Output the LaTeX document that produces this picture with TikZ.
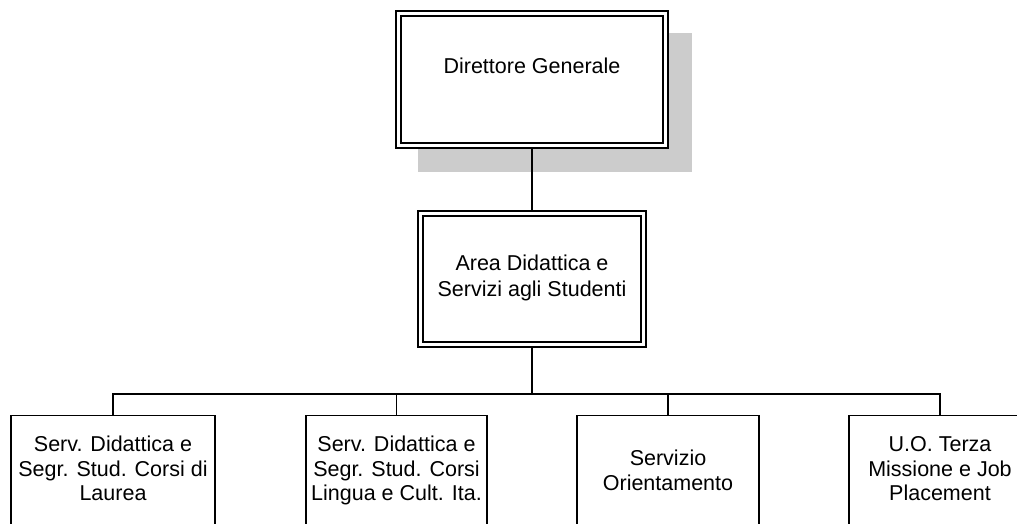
\documentclass[tikz,border=0pt]{standalone}
\usepackage{fontspec}
\setmainfont{Liberation Sans}
\begin{document}
\begin{tikzpicture}[x=1pt,y=-1pt,
  line/.style={line width=1.3pt,line cap=rect},
  box/.style={draw,line width=1.3pt,fill=white},
  lbl/.style={align=center,inner sep=0pt,font=\fontsize{21.5}{24.5}\selectfont},
  lbltop/.style={lbl,font=\fontsize{21.5}{26}\selectfont}]
\useasboundingbox (0,0) rectangle (1017,524);
\clip (0,0) rectangle (1017,524);
% shadow of top box
\fill[gray!40] (418,33) rectangle (692,172);
% top box (double border)
\draw[box] (396,11) rectangle (668,148);
\draw[line width=1.3pt] (401,16) rectangle (663,143);
\coordinate (dgS) at (532,148);
\node[lbltop,anchor=base] (dg) at (532,74) {Direttore Generale};
% second box
\draw[box] (418,211) rectangle (646,347);
\draw[line width=1.3pt] (423,216) rectangle (641,342);
\coordinate (adN) at (532,211);
\coordinate (adS) at (532,347);
\node[lbltop,anchor=base] (ad) at (532,296) {Area Didattica e\\Servizi agli Studenti};
% bottom boxes
\node[draw,line width=1.3pt,minimum width=204pt,minimum height=150pt,anchor=north,inner sep=0pt] (b1) at (113,415) {};
\node[draw,line width=1.3pt,minimum width=181pt,minimum height=150pt,anchor=north,inner sep=0pt] (b2) at (396.5,415) {};
\node[draw,line width=1.3pt,minimum width=182pt,minimum height=150pt,anchor=north,inner sep=0pt] (b3) at (668,415) {};
\node[draw,line width=1.3pt,minimum width=182pt,minimum height=150pt,anchor=north,inner sep=0pt] (b4) at (940,415) {};
\node[lbl,anchor=base] (t1) at (113,500.5) {Serv. Didattica e\\Segr. Stud. Corsi di\\Laurea};
\node[lbl,anchor=base] (t2) at (396.5,500.5) {Serv. Didattica e\\Segr. Stud. Corsi\\Lingua e Cult. Ita.};
\node[lbl,anchor=base] (t3) at (668,490) {Servizio\\Orientamento};
\node[lbl,anchor=base] (t4) at (940,500.5) {U.O. Terza\\Missione e Job\\Placement};
% connectors
\coordinate (bus) at (532,394);
\draw[line] (dgS) -- (adN);
\draw[line] (adS) -- (bus);
\draw[line] (b1.north) |- (bus) -| (b4.north);
\draw[line] (b2.north) -- (b2.north |- bus);
\draw[line] (b3.north) -- (b3.north |- bus);
\end{tikzpicture}
\end{document}
